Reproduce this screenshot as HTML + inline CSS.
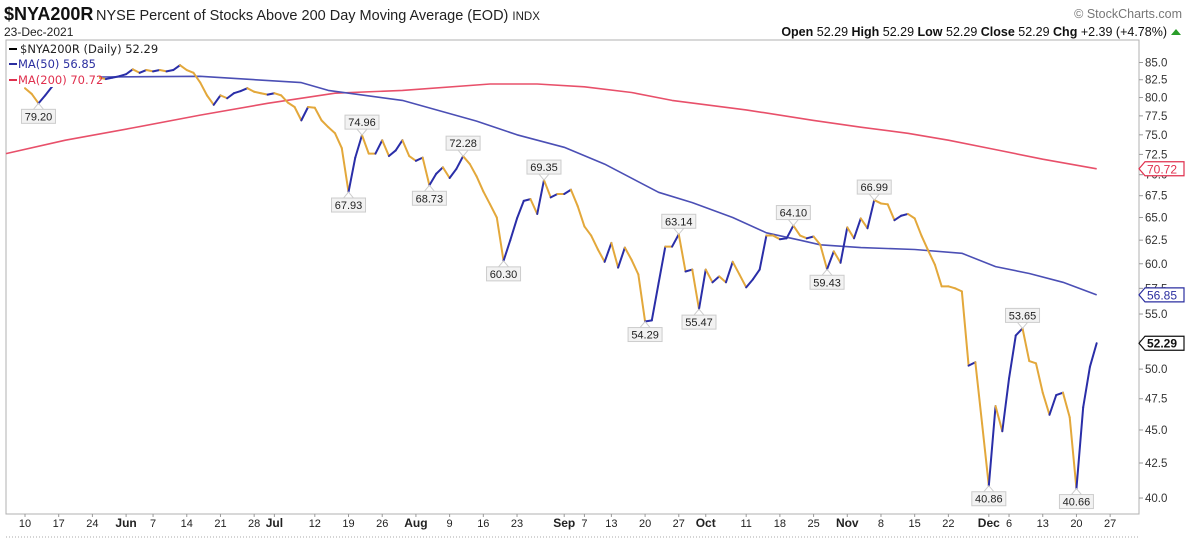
<!DOCTYPE html>
<html><head><meta charset="utf-8"><style>
html,body{margin:0;padding:0;background:#fff;}
svg{display:block;font-family:"Liberation Sans",sans-serif;}
</style></head><body>
<svg id="chart" width="1188" height="544" viewBox="0 0 1188 544">
  <g>
    <text x="4" y="20" font-size="18" font-weight="bold" fill="#111">$NYA200R</text>
    <text x="96" y="20" font-size="14.5" fill="#222">NYSE Percent of Stocks Above 200 Day Moving Average (EOD) <tspan font-size="11.5">INDX</tspan></text>
    <text x="4" y="36" font-size="12" fill="#222">23-Dec-2021</text>
    <text x="1182" y="18" font-size="12.5" fill="#777" text-anchor="end">© StockCharts.com</text>
    <text x="1167" y="36" font-size="12.5" fill="#111" text-anchor="end"><tspan font-weight="bold">Open</tspan> 52.29  <tspan font-weight="bold">High</tspan> 52.29  <tspan font-weight="bold">Low</tspan> 52.29  <tspan font-weight="bold">Close</tspan> 52.29  <tspan font-weight="bold">Chg</tspan> +2.39 (+4.78%)</text>
    <polygon points="1171,35 1181,35 1176,29" fill="#2a9d2a"/>
  </g>
  <rect x="6" y="40" width="1133" height="474" fill="#fff" stroke="#b0b0b0"/>
  <g id="marks"></g>
  <g>
    <rect x="7" y="41" width="170" height="15" fill="#fff"/>
    <rect x="7" y="56" width="92" height="31" fill="#fff"/>
    <line x1="9" y1="49" x2="17" y2="49" stroke="#000" stroke-width="2"/>
    <text x="20" y="53" font-family="DejaVu Sans,sans-serif" font-size="11.5" fill="#222">$NYA200R (Daily) 52.29</text>
    <line x1="9" y1="64" x2="17" y2="64" stroke="#2b2fa0" stroke-width="2"/>
    <text x="18" y="68" font-family="DejaVu Sans,sans-serif" font-size="11.5" fill="#2b2fa0">MA(50) 56.85</text>
    <line x1="9" y1="80" x2="17" y2="80" stroke="#e0304e" stroke-width="2"/>
    <text x="18" y="84" font-family="DejaVu Sans,sans-serif" font-size="11.5" fill="#e0304e">MA(200) 70.72</text>
  </g>
  <g id="axes"></g>
  <line x1="6" y1="537" x2="1139" y2="537" stroke="#aaa" stroke-dasharray="1,2"/>
</svg>
<script>
const priceValues = [81.3,80.5,79.20,80.3,81.5,82.3,82.8,83.0,82.6,83.2,83.0,82.8,82.6,82.8,83.0,83.3,84.0,83.5,83.9,83.7,83.9,83.7,83.9,84.6,83.9,83.5,82.1,80.3,79.0,80.3,79.9,80.6,80.9,81.3,80.8,80.6,80.4,80.6,80.3,79.3,78.7,76.9,78.7,78.6,76.9,76.0,75.2,73.3,67.93,72.1,74.96,72.6,72.6,74.3,72.3,73.0,74.3,72.3,71.7,72.1,68.73,70.1,70.9,69.6,70.7,72.28,71.3,69.8,68.0,66.5,65.0,60.30,62.5,64.9,66.9,67.1,65.4,69.35,67.3,67.7,67.7,68.2,66.3,64.0,63.0,61.5,60.2,62.2,59.6,61.7,60.4,58.9,54.29,54.4,58.0,61.8,61.8,63.14,59.2,59.4,55.47,59.4,58.1,58.7,58.1,60.2,58.9,57.6,58.4,59.4,63.0,63.0,62.6,62.7,64.10,63.0,62.7,62.9,62.0,59.43,61.3,60.1,63.9,62.7,64.9,63.8,66.99,66.6,66.5,64.7,65.2,65.4,64.9,63.0,61.4,59.9,57.7,57.7,57.5,57.2,50.3,50.6,45.5,40.86,46.9,44.9,49.2,53.0,53.65,50.7,50.5,48.0,46.2,47.8,48.0,46.0,40.66,46.8,50.2,52.29];
const ma50Days = [11,26,41,45,56,67,73,80,86,94,99,105,110,115,118,124,132,139,144,149,154,159];
const ma50Values = [82.9,83.0,82.1,81.0,79.6,76.8,75.0,73.4,71.3,67.9,66.7,65.0,63.3,62.5,62.0,61.7,61.5,61.1,59.7,59.0,58.1,56.85];
const ma200Days = [-3,6,16,26,36,46,56,69,76,83,90,96,107,117,124,131,137,144,151,159];
const ma200Values = [72.6,74.3,75.9,77.6,79.2,80.6,81.0,81.9,81.9,81.5,80.7,79.6,78.3,76.9,76.0,75.2,74.3,73.1,71.9,70.72];
const annotDays = [2,48,50,60,65,71,77,92,97,100,114,119,126,143,148,156];
const annotText = ["79.20","67.93","74.96","68.73","72.28","60.30","69.35","54.29","63.14","55.47","64.10","59.43","66.99","40.86","53.65","40.66"];
const annotAbove = [false,false,true,false,true,false,true,false,true,false,true,false,true,false,true,false];
const yTicks = [85,82.5,80,77.5,75,72.5,70,67.5,65,62.5,60,57.5,55,52.5,50,47.5,45,42.5,40];
const xTickLabels = ["10","17","24","Jun","7","14","21","28","Jul","12","19","26","Aug","9","16","23","Sep","7","13","20","27","Oct","11","18","25","Nov","8","15","22","Dec","6","13","20","27"];
const xTickDays = [0,5,10,15,19,24,29,34,37,43,48,53,58,63,68,73,80,83,87,92,97,101,107,112,117,122,127,132,137,143,146,151,156,161];
const xTickBold = ["Jun","Jul","Aug","Sep","Oct","Nov","Dec"];

const NS = "http://www.w3.org/2000/svg";
function xs(i){ return 25 + 6.74*i; }
function ys(v){ return 62.5 + 577.8*Math.log(85/v); }
function mk(tag, attrs, parent){ const e=document.createElementNS(NS,tag); for(const k in attrs) e.setAttribute(k,attrs[k]); parent.appendChild(e); return e; }
const marks = document.getElementById('marks');
const axes = document.getElementById('axes');

function maPath(days, vals, color, name){
  let d = "";
  for(let k=0;k<days.length;k++){ d += (k?"L":"M") + Math.max(6,xs(days[k])).toFixed(1) + "," + ys(vals[k]).toFixed(1); }
  const p = mk('path',{d:d,fill:'none',stroke:color,'stroke-width':1.6,'stroke-linejoin':'round'},marks);
  
  
}
maPath(ma200Days, ma200Values, '#e8506a', 'ma200-line');
maPath(ma50Days, ma50Values, '#4b4fb5', 'ma50-line');

for(let i=1;i<priceValues.length;i++){
  const up = priceValues[i] > priceValues[i-1];
  const l = mk('line',{x1:xs(i-1),y1:ys(priceValues[i-1]),x2:xs(i),y2:ys(priceValues[i]),stroke: up?'#2a2ea8':'#e3a83b','stroke-width':2,'stroke-linecap':'round'},marks);
  
  
}

for(let k=0;k<annotDays.length;k++){
  const px = xs(annotDays[k]), py = ys(priceValues[annotDays[k]]);
  const g = mk('g',{},marks);
  
  
  const w = 34, h = 14;
  const by = annotAbove[k] ? py - 6 - h : py + 6;
  const tipY = annotAbove[k] ? by + h : by;
  mk('polyline',{points:(px-5)+","+tipY+" "+px+","+py+" "+(px+5)+","+tipY,fill:'none',stroke:'#ccc','stroke-width':1},g);
  mk('rect',{x:px-w/2,y:by,width:w,height:h,fill:'#f2f2f2',stroke:'#ccc','stroke-width':1},g);
  const t = mk('text',{x:px,y:by+11,'text-anchor':'middle','font-size':11,fill:'#222'},g);
  t.textContent = annotText[k];
}

for(let k=0;k<yTicks.length;k++){
  const y = ys(yTicks[k]);
  const tk = mk('line',{x1:1139,y1:y,x2:1143,y2:y,stroke:'#999'},axes);
  
  
  const t = mk('text',{x:1145,y:y+4,'font-size':11.5,fill:'#333'},axes);
  
  
  t.textContent = yTicks[k].toFixed(1);
}

function priceTag(v, color, bold, name){
  const y = ys(v);
  const g = mk('g',{},axes);
  
  
  mk('polygon',{points:`1139,${y} 1145,${y-7} 1184,${y-7} 1184,${y+7} 1145,${y+7}`,fill:'#fff',stroke:color,'stroke-width':1.2},g);
  const t = mk('text',{x:1147,y:y+4.5,'font-size':12,fill:color,'font-weight':bold?'bold':'normal'},g);
  t.textContent = v.toFixed(2);
}
priceTag(ma200Values[ma200Values.length-1], '#e0304e', false, 'ma200-price-tag');
priceTag(ma50Values[ma50Values.length-1], '#2b2fa0', false, 'ma50-price-tag');
priceTag(priceValues[priceValues.length-1], '#111', true, 'last-price-tag');

for(let k=0;k<xTickLabels.length;k++){
  const x = xs(xTickDays[k]);
  const bold = xTickBold.indexOf(xTickLabels[k])>=0;
  const t = mk('text',{x:x,y:527,'text-anchor':'middle','font-size':bold?12:11,'font-weight':bold?'bold':'normal',fill:'#222'},axes);
  
  
  t.textContent = xTickLabels[k];
  const tk = mk('line',{x1:x,y1:514,x2:x,y2:517,stroke:'#999'},axes);
  
  
}
</script>
</body></html>
